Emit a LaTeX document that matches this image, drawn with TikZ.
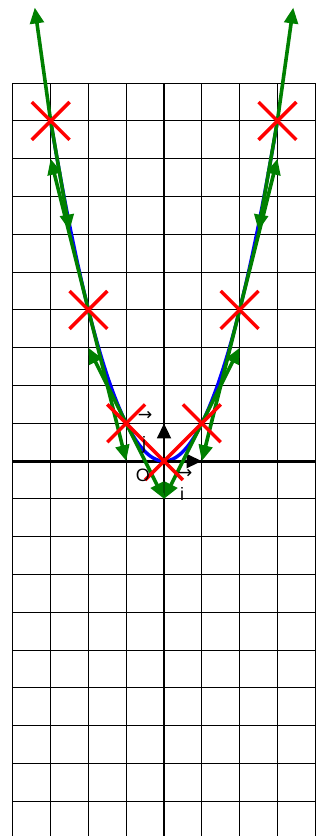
\documentclass[tikz,border=0pt]{standalone}
\usepackage{fontspec}
\setmainfont{Liberation Sans}
\newfontfamily\arrfont{DejaVu Sans}
\usetikzlibrary{arrows.meta}
\begin{document}
\begin{tikzpicture}[x=1cm,y=1cm,
 gridline/.style={black, line width=0.8pt},
 axisline/.style={black, line width=2.2pt},
 curve/.style={blue, line width=2.6pt},
 vel/.style={draw=green!50!black, line width=2.7pt, -{Triangle[length=4.2mm,width=3.6mm]}},
 crossline/.style={red, line width=2.6pt},
 unitvec/.style={black, line width=2.2pt, -{Triangle[length=4mm,width=3.6mm]}},
 lab/.style={font=\fontsize{13.5}{15}\selectfont, inner sep=0pt},
 arrlab/.style={font=\arrfont\fontsize{13}{15}\selectfont, inner sep=0pt}]
\useasboundingbox (-4.34,-9.92) rectangle (4.31,12.2);
% grid
\draw[gridline] (-4,-10) grid (4,10);
% axes
\coordinate (XL) at (-4,0);
\coordinate (XR) at (4,0);
\coordinate (YB) at (0,-10);
\coordinate (YT) at (0,10);
\draw[axisline] (XL) -- (XR);
\draw[axisline] (YB) -- (YT);
% curve
\draw[curve] plot[domain=-3:3, samples=121] (\x,{\x*\x});
% points
\coordinate (Pm3) at (-3,9);
\coordinate (Pm2) at (-2,4);
\coordinate (Pm1) at (-1,1);
\coordinate (O) at (0,0);
\coordinate (Pp1) at (1,1);
\coordinate (Pp2) at (2,4);
\coordinate (Pp3) at (3,9);
% arrow ends
\coordinate (Um3) at (-3.42,12);
\coordinate (Um2) at (-3,8);
\coordinate (Um1) at (-2,3);
\coordinate (Up3) at (3.42,12);
\coordinate (Up2) at (3,8);
\coordinate (Up1) at (2,3);
\coordinate (Dm3) at (-2.5,6.1);
\coordinate (Dm2) at (-1,0);
\coordinate (Dm1) at (0,-1);
\coordinate (Dp3) at (2.5,6.1);
\coordinate (Dp2) at (1,0);
\coordinate (Dp1) at (0,-1);
% unit vectors
\coordinate (Ie) at (1,0);
\coordinate (Je) at (0,1);
\draw[unitvec] (O) -- (Ie);
\draw[unitvec] (O) -- (Je);
% green vectors
\foreach \p in {m3,m2,m1,p1,p2,p3}{
  \draw[vel] (P\p) -- (U\p);
  \draw[vel] (P\p) -- (D\p);
}
% crosses
\foreach \p in {Pm3,Pm2,Pm1,O,Pp1,Pp2,Pp3}{
  \draw[crossline] (\p) ++(-0.5,-0.5) -- ++(1,1);
  \draw[crossline] (\p) ++(-0.5,0.5) -- ++(1,-1);
}
% labels
\node[lab] (Olab) at (-0.56,-0.37) {O};
\node[arrlab] (iarr) at (0.56,-0.33) {→};
\node[lab] (ilab) at (0.48,-0.87) {i};
\node[arrlab] (jarr) at (-0.5,1.19) {→};
\node[lab] (jlab) at (-0.53,0.42) {j};
\end{tikzpicture}
\end{document}
